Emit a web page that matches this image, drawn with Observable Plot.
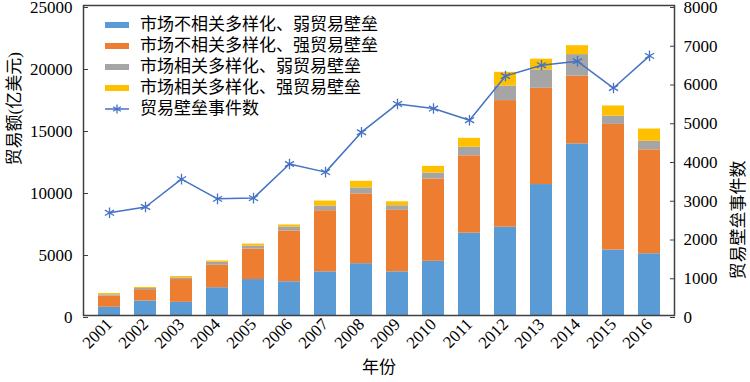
<!DOCTYPE html>
<html>
<head>
<meta charset="utf-8">
<script src="https://cdn.jsdelivr.net/npm/d3@7"></script>
<script src="https://cdn.jsdelivr.net/npm/@observablehq/plot@0.6"></script>
<style>
  body { margin: 0; background: #fff; }
  #wrap { position: relative; width: 750px; height: 382px; font-family: "Liberation Serif", "Noto Sans CJK SC", serif; }
  #wrap svg text { font-family: "Liberation Serif", "Noto Sans CJK SC", serif; }
  .legend { position: absolute; left: 105px; top: 14px; font-size: 17px; line-height: 21px; color: #000; font-family: "Liberation Serif", "Noto Sans CJK SC", serif; }
  .legend .row { display: flex; align-items: center; height: 21px; white-space: nowrap; }
  .legend .sw { width: 24px; height: 6px; margin-right: 11px; flex: none; }
  .legend svg { margin-right: 11px; flex: none; }
</style>
</head>
<body>
<div id="wrap"></div>
<script>
const years = ["2001","2002","2003","2004","2005","2006","2007","2008","2009","2010","2011","2012","2013","2014","2015","2016"];
const seriesNames = ["市场不相关多样化、弱贸易壁垒","市场不相关多样化、强贸易壁垒","市场相关多样化、弱贸易壁垒","市场相关多样化、强贸易壁垒"];
const lineName = "贸易壁垒事件数";
const unrelatedWeak   = [660, 1170, 1060, 2240, 2900, 2720, 3520, 4180, 3520, 4370, 6640, 7120, 10560, 13840, 5280, 4980];
const unrelatedStrong = [900, 910, 1840, 1810, 2460, 4100, 4930, 5630, 4960, 6640, 6240, 10210, 7760, 5460, 10130, 8380];
const relatedWeak     = [110, 100, 130, 240, 240, 320, 380, 480, 370, 480, 690, 1180, 1490, 1740, 670, 690];
const relatedStrong   = [100, 80, 110, 110, 160, 160, 400, 530, 320, 540, 720, 1100, 860, 720, 820, 990];
const barrierEvents   = [2650, 2800, 3520, 3010, 3030, 3910, 3700, 4730, 5460, 5340, 5040, 6180, 6460, 6560, 5870, 6700];
const colors = ["#5B9BD5", "#ED7D31", "#A5A5A5", "#FFC000"];
const lineColor = "#4472C4";
const leftTicks = [0, 5000, 10000, 15000, 20000, 25000];
const rightTicks = [0, 1000, 2000, 3000, 4000, 5000, 6000, 7000, 8000];
const leftMax = 25000, rightMax = 8000;
const xTitle = "年份", leftTitle = "贸易额(亿美元)", rightTitle = "贸易壁垒事件数";

const k = leftMax / rightMax;
const seriesValues = [unrelatedWeak, unrelatedStrong, relatedWeak, relatedStrong];
const rows = [];
years.forEach((yr, i) => seriesNames.forEach((s, j) => rows.push({year: yr, series: s, value: seriesValues[j][i]})));
const lineRows = years.map((yr, i) => ({year: yr, v: barrierEvents[i]}));

const font = "'Liberation Serif', 'Noto Sans CJK SC', serif";
const chart = Plot.plot({
  width: 750, height: 382,
  marginTop: 5, marginBottom: 67, marginLeft: 83, marginRight: 76,
  style: {fontFamily: font, fontSize: "17px", color: "#000", background: "#fff"},
  x: {domain: years, paddingInner: 0.4, paddingOuter: 0.2, label: null},
  y: {domain: [0, leftMax], label: null},
  color: {domain: seriesNames, range: colors},
  marks: [
    Plot.barY(rows, {x: "year", y: "value", fill: "series"}),
    Plot.line(lineRows, {x: "year", y: d => d.v * k, stroke: lineColor, strokeWidth: 1.5}),
    Plot.dot(lineRows, {x: "year", y: d => d.v * k, symbol: "asterisk", r: 5, stroke: lineColor, strokeWidth: 1.3}),
    Plot.axisY(leftTicks, {anchor: "left", tickSize: -5, tickPadding: 16, dy: 2, fontSize: 17, tickFormat: d => String(d), label: null, stroke: "#404040"}),
    Plot.axisY(rightTicks.map(v => v * k), {anchor: "right", tickSize: -5, tickPadding: 14, dy: 2, fontSize: 17, tickFormat: d => String(Math.round(d / k)), label: null, stroke: "#404040"}),
    Plot.axisX({tickRotate: -45, tickSize: 0, tickPadding: 6, fontSize: 17, label: null}),
    Plot.frame({stroke: "#404040", strokeWidth: 1.5}),
    Plot.text([xTitle], {frameAnchor: "bottom", dy: 57, fontSize: 17}),
    Plot.text([leftTitle], {frameAnchor: "left", dx: -69, dy: 5, rotate: -90, fontSize: 17}),
    Plot.text([rightTitle], {frameAnchor: "right", dx: 64, rotate: -90, fontSize: 17})
  ]
});
const wrap = document.getElementById("wrap");
wrap.appendChild(chart);

const legend = document.createElement("div");
legend.className = "legend";
seriesNames.forEach((s, j) => {
  const row = document.createElement("div");
  row.className = "row";
  const sw = document.createElement("span");
  sw.className = "sw";
  sw.style.background = colors[j];
  row.appendChild(sw);
  row.appendChild(document.createTextNode(s));
  legend.appendChild(row);
});
const lrow = document.createElement("div");
lrow.className = "row";
lrow.innerHTML = `<svg width="24" height="12" viewBox="0 0 24 12"><line x1="0" y1="6" x2="24" y2="6" stroke="${lineColor}" stroke-width="1.5"/><path d="M12,1.5V10.5M8.1,3.75L15.9,8.25M8.1,8.25L15.9,3.75" stroke="${lineColor}" stroke-width="1.3" fill="none"/></svg>`;
lrow.appendChild(document.createTextNode(lineName));
legend.appendChild(lrow);
wrap.appendChild(legend);
</script>
</body>
</html>
